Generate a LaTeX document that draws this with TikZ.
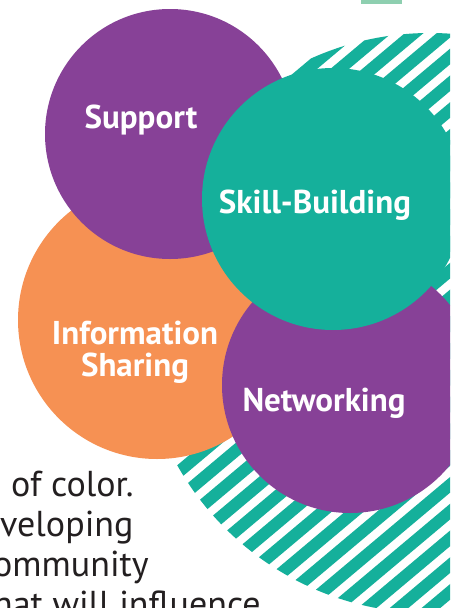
\documentclass[tikz,border=0pt]{standalone}
\usepackage{fontspec}
\setmainfont{PT Sans}
\definecolor{cpurple}{RGB}{135,65,151}
\definecolor{cteal}{RGB}{21,176,155}
\definecolor{corange}{RGB}{246,145,83}
\definecolor{clight}{RGB}{142,207,176}
\definecolor{cdark}{RGB}{35,31,32}
\tikzset{
  lbl/.style={text=white, inner sep=0pt, font=\fontsize{33}{32}\selectfont\bfseries},
  body/.style={text=cdark, inner sep=0pt, anchor=base west, font=\fontsize{36}{40}\selectfont},
  stripeline/.style={draw=cteal, line width=12pt}
}
\begin{document}
\begin{tikzpicture}[x=1pt,y=-1pt]
\useasboundingbox (0,0) rectangle (459,608);
\fill[white] (0,0) rectangle (459,608);
% small light green bar at top
\fill[clight] (361,0) rectangle (402,4);
\begin{scope}
  \clip (0,0) rectangle (450,608);
  % striped disk
  \begin{scope}
    \clip (430,323) circle (290);
    \foreach \k in {-17,...,16} {
      \draw[stripeline] ({217+\k*13.18-400},{520+\k*15.70+336}) -- ({217+\k*13.18+400},{520+\k*15.70-336});
    }
  \end{scope}
  \fill[corange] (157,320) circle (139);
  \fill[cpurple] (170,134) circle (125);
  \fill[cpurple] (350,385) circle (128);
  \fill[cteal] (333,199) circle (131);
\end{scope}
\node[lbl, anchor=base] (support) at (141,128) {Support};
\node[lbl, anchor=base] (skill) at (315,213) {Skill-Building};
\node[lbl, anchor=base, align=center] (info) at (135,376) {Information\\Sharing};
\node[lbl, anchor=base] (network) at (324,411) {Networking};
\begin{scope}
  \clip (0,0) rectangle (459,608);
  \node[body] (t1) at (11,496) {of color.};
  \node[body] (t2) at (0,536) {veloping};
  \node[body] (t3) at (-7,576) {ommunity};
  \node[body] (t4) at (-7,616) {hat will influence};
\end{scope}
\end{tikzpicture}
\end{document}
